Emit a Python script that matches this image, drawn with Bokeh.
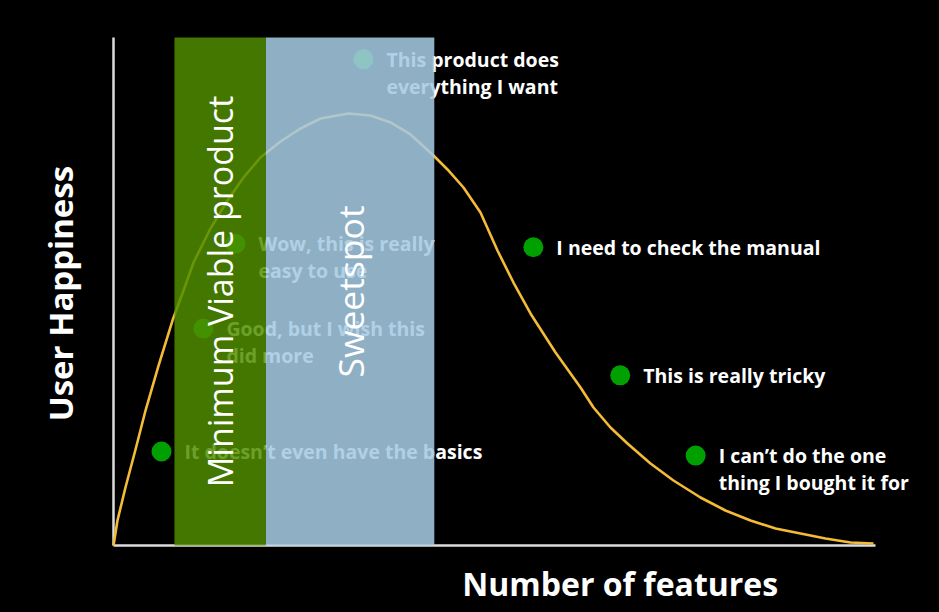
import math
from bokeh.plotting import figure
from bokeh.models import Range1d, ColumnDataSource
from bokeh.core.properties import value
from bokeh.embed import file_html
from bokeh.resources import INLINE

# ---- data ----
curve_x = [0, 0.52, 1.57, 2.89, 4.20, 5.91, 7.74, 9.19, 10.50, 12.73, 14.96, 17.06,
           19.29, 21.92, 24.54, 27.17, 30.84, 33.73, 36.35, 38.98, 41.99, 43.83,
           45.93, 48.16, 50.39, 52.49, 54.72, 58.01, 61.29, 62.99, 65.22, 67.45,
           70.47, 73.49, 77.03, 80.31, 83.60, 86.88, 90.16, 93.44, 96.72, 99.74]
curve_y = [0, 4.92, 11.42, 18.90, 26.57, 35.43, 44.29, 50.20, 55.71, 62.40, 67.91, 72.44,
           76.38, 79.53, 82.09, 84.06, 85.04, 84.65, 83.27, 80.91, 76.77, 74.02,
           70.47, 65.55, 58.07, 51.77, 45.67, 37.99, 31.10, 27.17, 23.23, 20.08,
           16.14, 12.80, 9.45, 6.89, 4.92, 3.35, 2.36, 1.38, 0.59, 0.39]

point_x = [6.3, 11.8, 16.0, 32.8, 55.1, 66.5, 76.4]
point_y = [18.5, 42.7, 59.4, 95.7, 58.7, 33.5, 17.7]
point_labels = [
    "It doesn\u2019t even have the basics",
    "Good, but I wish this\ndid more",
    "Wow, this is really\neasy to use",
    "This product does\neverything I want",
    "I need to check the manual",
    "This is really tricky",
    "I can\u2019t do the one\nthing I bought it for",
]

band_names = ["Minimum Viable product", "Sweetspot"]
band_start = [8.0, 20.0]
band_end = [20.0, 42.1]

x_title = "Number of features"
y_title = "User Happiness"

# ---- figure: the frame covers the whole canvas ----
FONT = "Open Sans"
p = figure(width=931, height=604, output_backend="svg", toolbar_location=None,
           x_axis_type=None, y_axis_type=None,
           x_range=Range1d(-14.83, 107.35), y_range=Range1d(-11.61, 107.28),
           min_border=0, min_border_left=0, min_border_right=0,
           min_border_top=0, min_border_bottom=0)
p.background_fill_color = "black"
p.border_fill_color = "black"
p.outline_line_color = None
p.grid.visible = False

# axis lines (x from 0 to 100, y from 0 to 100)
p.segment(x0=[0, 0], y0=[0, 0], x1=[0, 100], y1=[100, 0],
          line_color="#dcdcdc", line_width=2.5)

# curve
p.line(curve_x, curve_y, line_color="#f4bb36", line_width=2.6, line_join="round")

# points
p.scatter(point_x, point_y, size=20, fill_color="#00a000", line_color=None)

# labels: one row per text line
lx, ly, lt, lo = [], [], [], []
for x, y, lab in zip(point_x, point_y, point_labels):
    for k, line in enumerate(lab.split("\n")):
        lx.append(x); ly.append(y); lt.append(line); lo.append(k * 27)
src = ColumnDataSource(dict(x=lx, y=ly, text=lt, yo=lo))
p.text(x="x", y="y", text="text", source=src, x_offset=23, y_offset="yo",
       text_color="white", text_font=value(FONT), text_font_style="bold",
       text_font_size="19.5px", text_baseline="middle", text_align="left")

# bands (translucent, on top of the curve and the labels)
band_colors = ["#508e00", "#a4c9e1"]
band_alpha = [0.84, 0.87]
p.quad(left=band_start, right=band_end, bottom=0, top=100,
       fill_color=band_colors, fill_alpha=band_alpha, line_color=None)

# band titles
band_cx = [(a + b) / 2 for a, b in zip(band_start, band_end)]
p.text(x=band_cx, y=[50, 50], text=band_names, angle=math.pi / 2,
       text_color="white", text_font=value(FONT), text_font_size=["34px", "35.5px"],
       text_align="center", text_baseline="middle")

# axis titles
p.text(x=[66.5], y=[-7.5], text=[x_title], text_color="white",
       text_font=value(FONT), text_font_style="bold", text_font_size="32px",
       text_align="center", text_baseline="middle")
p.text(x=[-6.95], y=[49.6], text=[y_title], angle=math.pi / 2, text_color="white",
       text_font=value(FONT), text_font_style="bold", text_font_size="33px",
       text_align="center", text_baseline="middle")

html = file_html(p, INLINE)
html = html.replace("<head>", "<head><style>html,body{background:#000;}</style>", 1)
open("out.html", "w").write(html)
